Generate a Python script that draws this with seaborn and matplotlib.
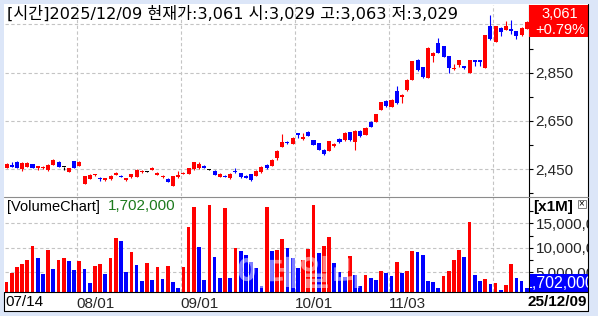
import numpy as np
import pandas as pd
import matplotlib
matplotlib.use("Agg")
import matplotlib.pyplot as plt
from matplotlib.patches import Rectangle
from matplotlib.ticker import FuncFormatter
import seaborn as sns

# ---------------- data ----------------
date_labels = ["08/01", "09/01", "10/01", "11/03", ""]
first_label = "07/14"
last_label = "25/12/09"
grid_pos = [13.5, 33.5, 55.5, 73.5, 93.5]

opens = [2457, 2468, 2482, 2450, 2461, 2471, 2454, 2454, 2446, 2468,
         2482, 2458, 2440, 2484, 2465, 2391, 2410, 2425, 2415, 2404,
         2409, 2427, 2424, 2404, 2417, 2420, 2438, 2440, 2449, 2428,
         2420, 2411, 2382, 2418, 2431, 2432, 2451, 2454, 2465, 2449,
         2443, 2420, 2424, 2413, 2443, 2433, 2424, 2429, 2424, 2438,
         2466, 2464, 2495, 2544, 2564, 2555, 2599, 2575, 2606, 2571,
         2557, 2530, 2526, 2548, 2574, 2571, 2603, 2564, 2609, 2592,
         2644, 2647, 2697, 2733, 2709, 2776, 2748, 2778, 2820, 2903,
         2873, 2829, 2920, 2974, 2960, 2919, 2864, 2882, 2876, 2850,
         2902, 2902, 2871, 3043, 2978, 3036, 3027, 3031, 3022, 3006,
         3029]
closes = [2472, 2461, 2457, 2478, 2476, 2457, 2462, 2460, 2468, 2489,
          2461, 2458, 2454, 2457, 2482, 2422, 2427, 2429, 2409, 2413,
          2424, 2435, 2420, 2413, 2429, 2449, 2444, 2440, 2457, 2435,
          2424, 2399, 2421, 2428, 2435, 2454, 2479, 2473, 2457, 2449,
          2427, 2431, 2420, 2431, 2440, 2417, 2416, 2404, 2443, 2460,
          2455, 2489, 2527, 2564, 2560, 2581, 2593, 2582, 2589, 2551,
          2530, 2512, 2567, 2555, 2562, 2602, 2571, 2609, 2589, 2622,
          2627, 2679, 2728, 2712, 2737, 2723, 2758, 2820, 2898, 2861,
          2834, 2953, 2933, 2933, 2916, 2871, 2871, 2902, 2868, 2902,
          2895, 2893, 3006, 2988, 3043, 3020, 3043, 3023, 3003, 3037,
          3061]
highs = [2475, 2479, 2484, 2480, 2479, 2472, 2464, 2462, 2470, 2491,
         2484, 2459, 2456, 2486, 2484, 2424, 2429, 2431, 2417, 2415,
         2426, 2437, 2427, 2415, 2431, 2451, 2446, 2443, 2459, 2437,
         2426, 2413, 2423, 2444, 2437, 2456, 2481, 2479, 2467, 2451,
         2445, 2433, 2426, 2433, 2454, 2435, 2426, 2431, 2445, 2462,
         2470, 2491, 2529, 2595, 2568, 2583, 2601, 2599, 2610, 2573,
         2559, 2532, 2569, 2557, 2580, 2604, 2605, 2611, 2613, 2624,
         2650, 2681, 2730, 2735, 2739, 2795, 2760, 2822, 2900, 2905,
         2875, 2955, 2935, 2995, 2962, 2921, 2886, 2904, 2878, 2904,
         2904, 2904, 3008, 3089, 3045, 3038, 3064, 3068, 3024, 3039,
         3063]
lows = [2455, 2459, 2455, 2444, 2459, 2455, 2449, 2452, 2444, 2466,
        2459, 2446, 2438, 2455, 2463, 2389, 2408, 2423, 2402, 2402,
        2407, 2425, 2417, 2402, 2415, 2418, 2436, 2437, 2447, 2426,
        2415, 2397, 2380, 2416, 2429, 2430, 2449, 2452, 2455, 2447,
        2425, 2418, 2418, 2411, 2434, 2415, 2414, 2402, 2422, 2436,
        2450, 2462, 2488, 2542, 2555, 2553, 2581, 2573, 2586, 2549,
        2528, 2510, 2524, 2541, 2558, 2569, 2569, 2530, 2584, 2590,
        2625, 2645, 2695, 2706, 2707, 2721, 2726, 2776, 2818, 2859,
        2830, 2827, 2896, 2931, 2914, 2847, 2862, 2875, 2866, 2848,
        2878, 2876, 2869, 2986, 2976, 3002, 3025, 3012, 2988, 3004,
        3029]
volumes_m = [3.08, 4.93, 6.15, 6.70, 7.51, 10.45, 7.99, 4.65, 9.55, 5.67,
             7.51, 7.99, 7.31, 5.47, 7.31, 5.67, 2.80, 6.28, 6.70, 4.65,
             7.99, 12.07, 11.39, 5.06, 9.20, 6.49, 3.22, 6.90, 3.43, 6.02,
             3.63, 6.28, 3.02, 1.85, 6.15, 14.25, 18.40, 10.23, 3.43, 18.74,
             8.12, 3.91, 18.19, 3.91, 10.03, 9.35, 8.53, 7.17, 5.95, 2.28,
             18.33, 9.35, 9.55, 11.86, 10.03, 7.85, 5.81, 7.51, 9.76, 18.74,
             8.87, 10.37, 12.21, 6.83, 4.99, 4.10, 8.33, 4.45, 2.28, 4.45,
             3.91, 3.43, 5.27, 4.93, 4.31, 7.10, 4.93, 5.27, 9.35, 9.14,
             8.53, 3.22, 3.08, 1.85, 4.31, 5.27, 7.51, 9.55, 8.12, 15.27,
             4.45, 3.22, 3.63, 2.55, 2.76, 1.40, 2.42, 6.70, 3.77, 3.20,
             1.702]

header = "[시간]2025/12/09 현재가:3,061 시:3,029 고:3,063 저:3,029"
cur_price = "3,061"
cur_change = "+0.79%"
cur_volume = "1,702,000"

# ---------------- style ----------------
sns.set_style("white")
plt.rcParams["font.family"] = ["Liberation Sans", "Noto Sans CJK KR", "DejaVu Sans"]

BG = "#dce6f8"
RED = "#ff0000"
BLUE = "#0000ff"
GRID = "#c4c4c4"
W, H = 598, 316

fig = plt.figure(figsize=(W / 100, H / 100), dpi=100)
fig.patch.set_facecolor(BG)


def rect(x0, y0, x1, y1):
    return [x0 / W, 1 - y1 / H, (x1 - x0) / W, (y1 - y0) / H]


# white panel background
ax_bg = fig.add_axes([0, 0, 1, 1], zorder=-10)
ax_bg.set_xlim(0, W)
ax_bg.set_ylim(H, 0)
ax_bg.axis("off")
ax_bg.add_patch(Rectangle((4, 4), 584.3, 307.5, facecolor="white", edgecolor="none"))

idx = np.arange(len(opens))
o = np.array(opens, float)
c = np.array(closes, float)
cols = np.where(c > o, RED, np.where(c < o, BLUE, "black"))

# ---------------- price panel ----------------
ax_p = fig.add_axes(rect(5, 5, 529.3, 196))
ax_p.set_facecolor("none")
ylo, yhi = 2339.4, 3130.3
ppx = (yhi - ylo) / 191.0
body_bot = np.minimum(o, c)
body_h = np.maximum(np.abs(c - o), ppx)
ax_p.vlines(idx, lows, highs, colors=cols, linewidth=0.8, zorder=3)
ax_p.bar(idx, body_h, bottom=body_bot, width=0.78, color=cols, linewidth=0, zorder=4)
ax_p.set_xlim(-0.29, 100.48)
ax_p.set_ylim(ylo, yhi)
ax_p.yaxis.tick_right()
ax_p.set_yticks([2450, 2650, 2850, 3050])
ax_p.set_yticks([2350, 2550, 2750, 2950], minor=True)
# the 3,050 label sits under the current-price box in the reference
ax_p.yaxis.set_major_formatter(FuncFormatter(lambda v, p: "" if v > 3000 else f"{v:,.0f}"))
ax_p.tick_params(axis="y", which="both", direction="out", length=3, width=0.8,
                 color="black", labelsize=11, pad=1.5, right=True, left=False)
ax_p.set_xticks(grid_pos)
ax_p.tick_params(axis="x", length=0, labelbottom=False)
ax_p.grid(True, color=GRID, linestyle=(0, (3, 2.2)), linewidth=0.8)
ax_p.set_axisbelow(True)
for s in ["left", "top", "bottom"]:
    ax_p.spines[s].set_visible(False)
ax_p.spines["right"].set_color("black")
ax_p.spines["right"].set_linewidth(0.8)

# ---------------- volume panel ----------------
ax_v = fig.add_axes(rect(5, 197, 529.3, 291.7))
ax_v.set_facecolor("none")
vdir = ["up"] + ["up" if volumes_m[i] >= volumes_m[i - 1] else "down"
                 for i in range(1, len(volumes_m))]
vdf = pd.DataFrame({"idx": idx, "vol": volumes_m, "dir": vdir})
sns.barplot(data=vdf, x="idx", y="vol", hue="dir", hue_order=["up", "down"],
            palette={"up": RED, "down": BLUE}, native_scale=True, dodge=False,
            width=0.72, saturation=1, errorbar=None, legend=False,
            linewidth=0, ax=ax_v, zorder=3)
ax_v.set_xlim(-0.29, 100.48)
ax_v.set_ylim(1.04, 20.37)
ax_v.set_xlabel("")
ax_v.set_ylabel("")
ax_v.yaxis.tick_right()
ax_v.set_yticks([5, 10, 15])
ax_v.set_yticks([2.5, 7.5, 12.5, 17.5], minor=True)
ax_v.yaxis.set_major_formatter(FuncFormatter(lambda v, p: f"{v * 1e6:,.0f}"))
ax_v.tick_params(axis="y", which="both", direction="out", length=3, width=0.8,
                 color="black", labelsize=11, pad=1.5, right=True, left=False)
ax_v.set_xticks(grid_pos)
ax_v.set_xticklabels(date_labels, ha="left")
ax_v.tick_params(axis="x", length=0, labelsize=11, pad=4, bottom=True)
ax_v.grid(True, color=GRID, linestyle=(0, (3, 2.2)), linewidth=0.8)
ax_v.set_axisbelow(True)
for s in ["left", "top", "bottom"]:
    ax_v.spines[s].set_visible(False)
ax_v.spines["right"].set_color("black")
ax_v.spines["right"].set_linewidth(0.8)

# ---------------- overlay decorations ----------------
ax_o = fig.add_axes([0, 0, 1, 1], zorder=10)
ax_o.set_xlim(0, W)
ax_o.set_ylim(H, 0)
ax_o.axis("off")
ax_o.patch.set_alpha(0)

# watermark
ax_o.text(300, 274, "이데일리", family=["Noto Sans CJK KR"], fontweight="bold",
          fontsize=25, color="white", alpha=0.5, ha="center", va="center")

# outer frame (clips right-side labels)
ax_o.add_patch(Rectangle((588.5, 0), W - 588.5, H, facecolor=BG, edgecolor="none"))
ax_o.add_patch(Rectangle((0, 311.5), W, H - 311.5, facecolor=BG, edgecolor="none"))
ax_o.add_patch(Rectangle((0, 0), 4, H, facecolor=BG, edgecolor="none"))
ax_o.plot([588.3, 588.3], [4, 311.3], color="black", lw=0.8)
ax_o.plot([4, 588.3], [196.5, 196.5], color="#8c8c8c", lw=0.8)
ax_o.plot([4, 588.3], [291.7, 291.7], color="black", lw=0.8)
ax_o.plot([4, 588.3], [311.0, 311.0], color="black", lw=0.8)
ax_o.plot([4.4, 4.4], [291.7, 311.0], color="black", lw=0.8)

# header
ax_o.text(7, 14, header, family=["DejaVu Sans", "Noto Sans CJK KR"],
          fontsize=11.6, color="black", ha="left", va="center")

# current price box
ax_o.add_patch(Rectangle((529.3, 4.5), 59.0, 32.5, facecolor=RED, edgecolor="none"))
ax_o.text(559.5, 14.5, cur_price, fontsize=10.5, color="white", ha="center", va="center")
ax_o.text(560, 30, cur_change, fontsize=10.5, color="white", ha="center", va="center")

# volume labels
ax_o.text(7, 206.5, "[VolumeChart]", fontsize=10.5, color="black", ha="left", va="center")
ax_o.text(108, 206.5, cur_volume, fontsize=11, color="#1c7a1c", ha="left", va="center")
ax_o.text(533, 206.5, "[x1M]", fontsize=11, fontweight="bold", color="black",
          ha="left", va="center")
ax_o.add_patch(Rectangle((577.5, 199.5), 8, 8, facecolor="white", edgecolor="#808080", lw=0.7))
ax_o.text(581.5, 203.3, "×", fontsize=7, color="black", ha="center", va="center")

# current volume box
vbox = Rectangle((530, 274), 58.3, 17.7, facecolor=BLUE, edgecolor="none")
ax_o.add_patch(vbox)
t = ax_o.text(524, 283, cur_volume, fontsize=11.5, color="white", ha="left",
              va="center", clip_on=True)
t.set_clip_path(vbox)

# date labels at the edges
ax_o.text(5, 301.5, first_label, fontsize=11, color="black", ha="left", va="center")
ax_o.text(587, 301.5, last_label, fontsize=11, fontweight="bold", color="black",
          ha="right", va="center")

fig.savefig("out.png", dpi=100, facecolor=BG)
